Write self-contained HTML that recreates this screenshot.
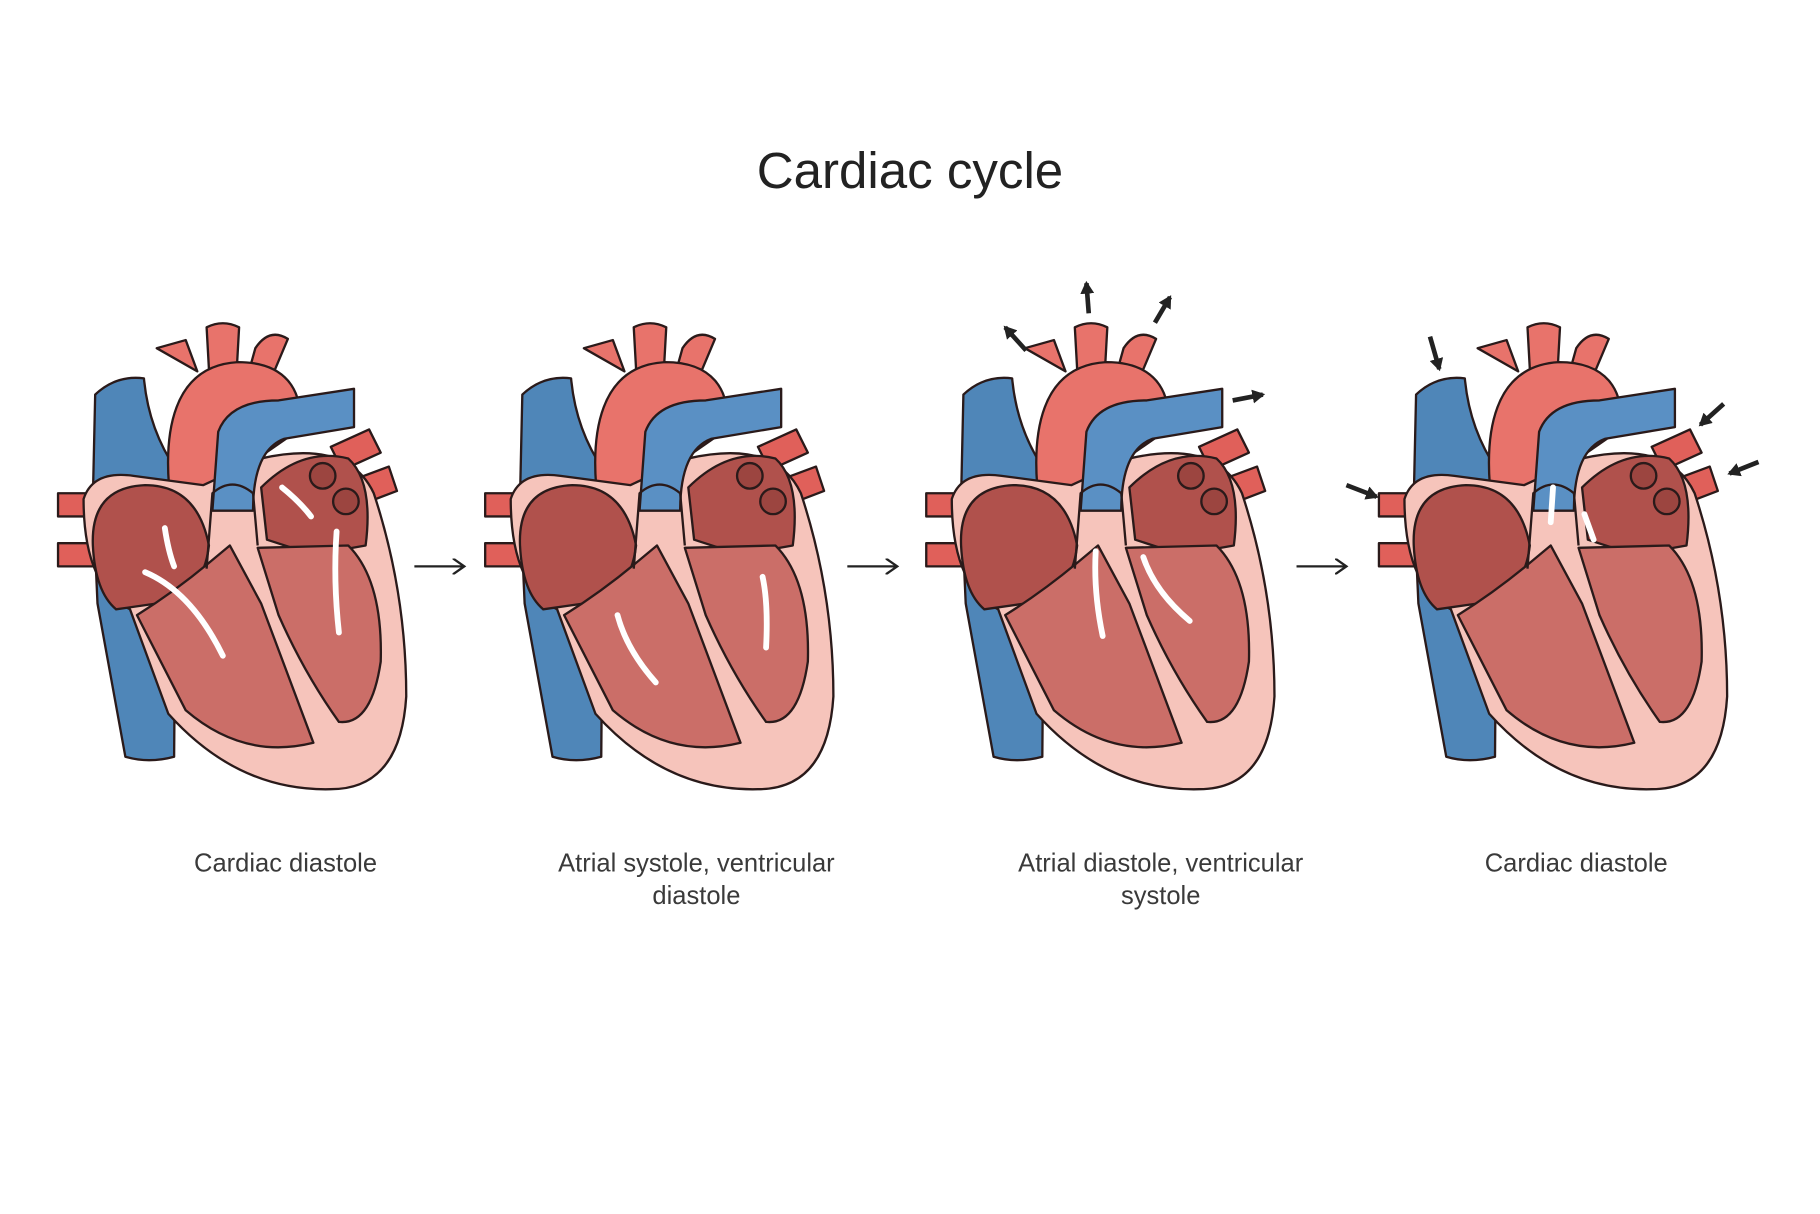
<!DOCTYPE html>
<html><head><meta charset="utf-8"><style>
html,body{margin:0;padding:0;background:#fff}
svg{display:block}
text{font-family:"Liberation Sans",sans-serif}
</style></head><body>
<svg width="1820" height="1214" viewBox="0 0 1568 1046" preserveAspectRatio="none" xmlns="http://www.w3.org/2000/svg">
<defs>
<g id="heart" stroke="#2a1a1a" stroke-width="2" stroke-linejoin="round">
  <rect x="50" y="425" width="35" height="20" fill="#e0605a"/>
  <rect x="50" y="468" width="35" height="20" fill="#e0605a"/>
  <path d="M82,340 Q100,323 124,326 Q128,370 152,405 L150,652 Q128,658 108,652 L84,520 L80,430 Z" fill="#4f86b8"/>
  <path d="M285,385 L318,370 L328,390 L295,405 Z" fill="#e0605a"/>
  <path d="M300,415 L335,402 L342,423 L308,436 Z" fill="#e0605a"/>
  <path d="M135,300 L160,293 L170,320 Z" fill="#e8736b"/>
  <path d="M178,282 Q192,275 206,282 L204,318 L180,318 Z" fill="#e8736b"/>
  <path d="M220,300 Q232,282 248,292 L232,330 L215,318 Z" fill="#e8736b"/>
  <path d="M148,440 C138,370 150,315 205,312 C245,312 262,335 258,370 L222,395 L200,440 Z" fill="#e8736b"/>
  <path d="M72,430 Q80,405 115,410 L175,418 L225,395 Q300,378 322,425 Q350,510 350,600 Q345,680 285,680 Q205,682 145,615 L112,525 Q72,505 72,430 Z" fill="#f6c4bb"/>
  <path d="M183,440 L188,372 Q198,345 240,345 L305,335 L305,368 L245,378 Q218,388 218,440 Z" fill="#5a90c4"/>
  <path d="M80,470 Q78,420 125,418 Q170,418 180,470 Q175,515 135,520 L100,525 Q82,510 80,470 Z" fill="#b0514c"/>
  <path d="M225,420 Q260,385 300,395 Q322,415 315,470 L270,478 L230,465 Z" fill="#b0514c"/>
  <circle cx="278" cy="410" r="11" fill="#9c4540"/>
  <circle cx="298" cy="432" r="11" fill="#9c4540"/>
  <path d="M118,530 Q150,510 180,485 L198,470 L225,520 L270,640 Q210,655 160,612 Z" fill="#cb6e68"/>
  <path d="M222,472 L300,470 Q330,500 328,570 Q320,625 292,622 Q262,580 240,530 Z" fill="#cb6e68"/>
  <path d="M178,490 L183,425 Q200,410 218,425 L222,470" fill="none"/>
</g>
<marker id="ah" markerUnits="userSpaceOnUse" markerWidth="12" markerHeight="14" refX="10" refY="7" orient="auto"><path d="M0,0 L10,7 L0,14" fill="none" stroke="#222" stroke-width="2"/></marker>
<marker id="bh" markerUnits="userSpaceOnUse" markerWidth="12" markerHeight="12" refX="9" refY="6" orient="auto"><path d="M0,0 L11,6 L0,12 Z" fill="#222"/></marker>
</defs>

<text x="784" y="162" text-anchor="middle" font-size="44" fill="#222">Cardiac cycle</text>

<use href="#heart"/>
<use href="#heart" transform="translate(368,0)"/>
<use href="#heart" transform="translate(748,0)"/>
<use href="#heart" transform="translate(1138,0)"/>

<g stroke="#fff" stroke-width="5" fill="none" stroke-linecap="round">
  <path d="M142,455 Q145,475 150,488"/>
  <path d="M125,493 Q165,510 192,565"/>
  <path d="M243,420 Q258,432 268,445"/>
  <path d="M290,458 Q287,500 292,545"/>
  <path d="M565,588 Q540,560 532,530"/>
  <path d="M660,558 Q662,520 657,497"/>
  <path d="M950,548 Q942,510 944,475"/>
  <path d="M1025,535 Q995,510 985,480"/>
  <path d="M1338,420 L1336,450"/>
  <path d="M1365,443 L1373,465"/>
</g>

<g stroke="#222" stroke-width="4" fill="none" marker-end="url(#bh)">
  <line x1="884" y1="302" x2="866" y2="282"/>
  <line x1="938" y1="270" x2="936" y2="244"/>
  <line x1="995" y1="278" x2="1008" y2="256"/>
  <line x1="1062" y1="345" x2="1088" y2="340"/>
  <line x1="1232" y1="290" x2="1240" y2="318"/>
  <line x1="1160" y1="418" x2="1186" y2="428"/>
  <line x1="1485" y1="348" x2="1465" y2="366"/>
  <line x1="1515" y1="398" x2="1490" y2="408"/>
</g>

<g stroke="#222" stroke-width="2" marker-end="url(#ah)">
  <line x1="357" y1="488" x2="400" y2="488"/>
  <line x1="730" y1="488" x2="773" y2="488"/>
  <line x1="1117" y1="488" x2="1160" y2="488"/>
</g>

<g font-size="22" fill="#3a3a3a" text-anchor="middle">
  <text x="246" y="751">Cardiac diastole</text>
  <text x="600" y="751">Atrial systole, ventricular</text>
  <text x="600" y="779">diastole</text>
  <text x="1000" y="751">Atrial diastole, ventricular</text>
  <text x="1000" y="779">systole</text>
  <text x="1358" y="751">Cardiac diastole</text>
</g>
</svg>
</body></html>
